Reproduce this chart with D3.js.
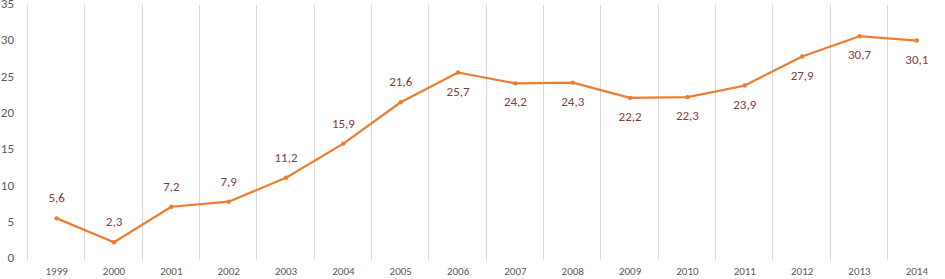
<!DOCTYPE html>
<html>
<head>
<meta charset="utf-8">
<script src="https://cdn.jsdelivr.net/npm/d3@7"></script>
<style>
  html, body { margin: 0; padding: 0; background: #fff; }
  svg { display: block; font-family: Calibri, Carlito, "Open Sans", "Liberation Sans", sans-serif; }
</style>
</head>
<body>
<svg id="chart"></svg>
<script>
// Yearly series, values
const years = ["1999", "2000", "2001", "2002", "2003", "2004", "2005", "2006",
               "2007", "2008", "2009", "2010", "2011", "2012", "2013", "2014"];
const values = [5.6, 2.3, 7.2, 7.9, 11.2, 15.9, 21.6, 25.7,
                24.2, 24.3, 22.2, 22.3, 23.9, 27.9, 30.7, 30.1];
const labelAbove = [true, true, true, true, true, true, true, false,
                    false, false, false, false, false, false, false, false];
const yTicks = [0, 5, 10, 15, 20, 25, 30, 35];

const W = 945, H = 279;
const margin = { top: 5, right: 0, bottom: 20, left: 28 };

const svg = d3.select("#chart").attr("width", W).attr("height", H);

const x = d3.scaleBand()
    .domain(years)
    .range([margin.left, W - margin.right + 0.5]);

const y = d3.scaleLinear()
    .domain([0, 35])
    .range([H - margin.bottom, margin.top]);

// vertical gridlines at category boundaries
const bounds = years.map(d => x(d)).concat([x(years[years.length - 1]) + x.bandwidth()]);
svg.append("g")
    .selectAll("line")
    .data(bounds)
    .join("line")
    .attr("x1", d => Math.round(d) - 0.5)
    .attr("x2", d => Math.round(d) - 0.5)
    .attr("y1", y(35))
    .attr("y2", y(0) + 1)
    .attr("stroke", "#d9d9d9")
    .attr("stroke-width", 1);

// y tick labels
svg.append("g")
    .selectAll("text")
    .data(yTicks)
    .join("text")
    .attr("x", 14)
    .attr("y", d => y(d))
    .attr("text-anchor", "end")
    .attr("dominant-baseline", "middle")
    .attr("font-size", "13px")
    .attr("fill", "#595959")
    .text(d => d);

// x tick labels
svg.append("g")
    .selectAll("text")
    .data(years)
    .join("text")
    .attr("x", d => x(d) + x.bandwidth() / 2)
    .attr("y", H - 7)
    .attr("text-anchor", "middle")
    .attr("dominant-baseline", "middle")
    .attr("font-size", "11px")
    .attr("fill", "#595959")
    .text(d => d);

const pts = years.map((yr, i) => ({ yr, v: values[i], above: labelAbove[i] }));

const line = d3.line()
    .x(d => x(d.yr) + x.bandwidth() / 2)
    .y(d => y(d.v));

svg.append("path")
    .datum(pts)
    .attr("d", line)
    .attr("fill", "none")
    .attr("stroke", "#ed7d31")
    .attr("stroke-width", 2.25)
    .attr("stroke-linejoin", "round");

svg.append("g")
    .selectAll("circle")
    .data(pts)
    .join("circle")
    .attr("cx", d => x(d.yr) + x.bandwidth() / 2)
    .attr("cy", d => y(d.v))
    .attr("r", 2.2)
    .attr("fill", "#ed7d31");

// data labels
const fmt = v => v.toFixed(1).replace(".", ",");
svg.append("g")
    .selectAll("text")
    .data(pts)
    .join("text")
    .attr("x", d => x(d.yr) + x.bandwidth() / 2)
    .attr("y", d => y(d.v) + (d.above ? -19 : 20))
    .attr("text-anchor", "middle")
    .attr("dominant-baseline", "middle")
    .attr("font-size", "13px")
    .attr("fill", "#843c3c")
    .text(d => fmt(d.v));
</script>
</body>
</html>
